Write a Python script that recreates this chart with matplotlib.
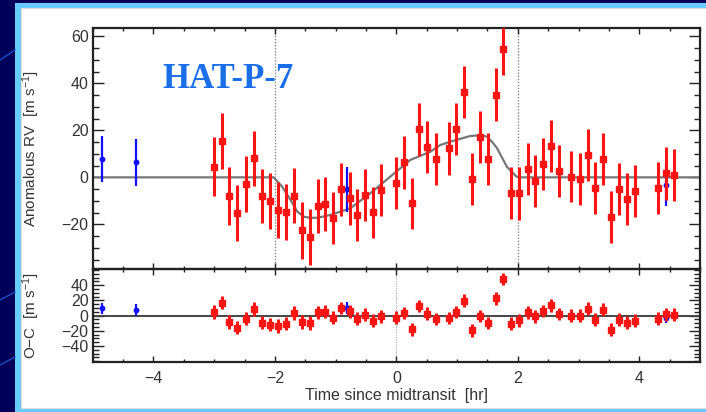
import matplotlib
matplotlib.use("Agg")
import matplotlib.pyplot as plt
from matplotlib.patches import Rectangle
from matplotlib.ticker import MultipleLocator

plt.rcParams['font.family'] = ['Liberation Sans', 'DejaVu Sans']
plt.rcParams['mathtext.fontset'] = 'custom'
plt.rcParams['mathtext.rm'] = 'Liberation Sans'
plt.rcParams['mathtext.it'] = 'Liberation Sans'

# ---------------- data ----------------
red_t = [-3.00, -2.87, -2.75, -2.62, -2.48, -2.35, -2.22, -2.08, -1.95, -1.82,
         -1.69, -1.56, -1.43, -1.29, -1.17, -1.04, -0.91, -0.77, -0.65, -0.52,
         -0.39, -0.26, 0.00, 0.13, 0.25, 0.38, 0.51, 0.65, 0.86, 0.99,
         1.12, 1.25, 1.38, 1.51, 1.64, 1.76, 1.89, 2.02, 2.16, 2.29,
         2.42, 2.55, 2.68, 2.88, 3.02, 3.15, 3.27, 3.40, 3.53, 3.67,
         3.80, 3.93, 4.31, 4.44, 4.57]
red_rv = [4.5, 15.4, -7.8, -15.1, -2.9, 8.1, -8.0, -10.1, -13.9, -14.8,
          -7.8, -22.6, -25.3, -12.2, -11.4, -17.4, -5.1, -8.9, -16.0, -7.5,
          -14.9, -5.4, -2.3, 6.4, -11.1, 20.4, 13.0, 7.7, 12.3, 20.7,
          36.4, -0.6, 17.3, 7.9, 35.1, 54.6, -6.6, -6.8, 3.7, -1.4,
          5.7, 13.3, 2.8, 0.3, -0.7, 9.6, -4.6, 7.9, -16.8, -5.0,
          -9.2, -5.7, -4.4, 1.7, 0.9]
red_err = [12.6, 12.0, 12.4, 11.8, 12.0, 11.7, 11.6, 11.8, 12.0, 12.0,
           11.8, 12.0, 12.0, 11.5, 11.5, 11.0, 11.2, 11.2, 11.0, 11.2,
           11.0, 11.0, 11.0, 11.2, 11.0, 11.2, 11.0, 11.0, 11.2, 11.0,
           11.0, 11.0, 11.0, 11.0, 11.2, 11.0, 11.2, 11.4, 11.0, 11.0,
           11.2, 11.0, 11.0, 10.9, 10.9, 11.0, 11.0, 11.0, 11.0, 11.0,
           11.0, 11.0, 11.0, 11.4, 11.0]
red_oc = [4.8, 17.1, -8.3, -15.8, -3.9, 8.8, -9.2, -11.8, -13.6, -10.5,
          3.5, -8.3, -9.6, 4.4, 5.3, -2.6, 10.1, 5.7, -3.9, 1.3,
          -6.6, -0.9, -2.6, 3.5, -18.0, 12.7, 2.6, -4.4, -3.1, 4.8,
          19.7, -19.3, -0.4, -9.6, 22.8, 48.2, -10.5, -6.1, 4.4, -0.9,
          6.1, 13.6, 2.2, 0.0, 0.0, 9.2, -5.3, 7.9, -18.4, -5.3,
          -9.2, -6.6, -3.9, 1.8, 1.3]

blue_t = [-4.85, -4.29, -0.82, 4.44]
blue_rv = [7.9, 6.5, -5.1, -3.3]
blue_err = [9.7, 10.0, 9.7, 9.0]
blue_oc = [9.6, 7.5, 10.1, -3.3]

model_t = [-5.0, -2.02, -1.88, -1.74, -1.63, -1.52, -1.41, -1.30, -1.09, -0.76,
           -0.43, -0.10, 0.23, 0.56, 0.72, 0.89, 1.22, 1.40, 1.49, 1.58, 1.66,
           1.82, 1.98, 2.02, 5.0]
model_rv = [0.0, 0.0, -4.0, -9.7, -14.6, -16.8, -17.2, -17.2, -16.0, -13.2,
            -6.8, 0.3, 7.4, 10.9, 13.7, 15.2, 17.6, 17.9, 17.3, 15.0, 12.3,
            4.5, 0.3, 0.0, 0.0]

contact_t = [-2.0, 2.0]

# ---------------- figure ----------------
W, H = 706, 412
fig = plt.figure(figsize=(W / 100, H / 100), dpi=100, facecolor='#00005a')

# slide decoration lines on the navy margin
for y0, y1 in [(60, 50), (300, 292), (365, 357)]:
    fig.add_artist(plt.Line2D([0, 15 / W], [1 - y0 / H, 1 - y1 / H], color='#1a4fc0',
                              lw=1.0, transform=fig.transFigure))

# light-blue frame and white panel
fig.add_artist(Rectangle((15 / W, 0), 1 - 15 / W, 1 - 3 / H, transform=fig.transFigure,
                         facecolor='#66ccff', edgecolor='none', zorder=0))
fig.add_artist(Rectangle((20.5 / W, 4 / H), 1 - 20.5 / W, (408.5 - 8.5) / H,
                         transform=fig.transFigure, facecolor='white',
                         edgecolor='#dddddd', lw=0.8, zorder=0))

L, R = 92.7, 700.0
T1, B1, B2 = 28.0, 269.3, 361.7
ax1 = fig.add_axes([L / W, 1 - B1 / H, (R - L) / W, (B1 - T1) / H])
ax2 = fig.add_axes([L / W, 1 - B2 / H, (R - L) / W, (B2 - B1) / H], sharex=ax1)

txt = '#333333'
FS = 11.5
for ax in (ax1, ax2):
    ax.set_facecolor('none')
    for s in ax.spines.values():
        s.set_linewidth(1.6)
        s.set_color('#222222')
    ax.tick_params(which='both', direction='in', top=True, right=True,
                   colors='#222222', labelcolor=txt, labelsize=FS, width=1.0)
    ax.tick_params(axis='x', which='major', length=4)
    ax.tick_params(axis='x', which='minor', length=2.2)
    ax.tick_params(axis='y', which='major', length=8, pad=3)
    ax.tick_params(axis='y', which='minor', length=4.5)
    ax.xaxis.set_major_locator(MultipleLocator(2))
    ax.xaxis.set_minor_locator(MultipleLocator(0.5))
    ax.yaxis.set_major_locator(MultipleLocator(20))
    ax.yaxis.set_minor_locator(MultipleLocator(5))

ax1.set_xlim(-5.0, 5.0)
ax1.set_ylim(-39.1, 63.5)
ax2.set_ylim(-60.6, 61.0)
ax1.tick_params(axis='x', labelbottom=False)
ax2.tick_params(axis='x', pad=7)
ax2.set_yticks([-40, -20, 0, 20, 40])

# top panel
for c in contact_t:
    ax1.axvline(c, color='#888888', lw=1.0, ls=(0, (1, 1.2)), zorder=1)
ax1.plot(model_t, model_rv, color='#777777', lw=1.6, zorder=2)
ax1.errorbar(blue_t, blue_rv, yerr=blue_err, fmt='o', color='#1010ff', ms=3.2,
             elinewidth=1.6, capsize=0, zorder=3)
ax1.errorbar(red_t, red_rv, yerr=red_err, fmt='s', color='#ff1414', ms=5,
             elinewidth=2.2, capsize=0, zorder=4)

# bottom panel
ax2.axvline(0.0, color='#aaaaaa', lw=0.8, ls=(0, (1, 1.2)), zorder=1)
ax2.axhline(0.0, color='#444444', lw=1.4, zorder=2)
ax2.errorbar(blue_t, blue_oc, yerr=[e * 0.75 for e in blue_err], fmt='o', color='#1010ff',
             ms=3.2, elinewidth=1.6, capsize=0, zorder=3)
ax2.errorbar(red_t, red_oc, yerr=[e * 0.75 for e in red_err], fmt='s', color='#ff1414',
             ms=5, elinewidth=2.2, capsize=0, zorder=4)

ax1.set_ylabel('Anomalous RV  [m s$^{-1}$]', color=txt, fontsize=11)
ax2.set_ylabel('O\u2212C  [m s$^{-1}$]', color=txt, fontsize=11)
ax2.set_xlabel('Time since midtransit  [hr]', color=txt, fontsize=11.5, labelpad=1)
lx = (42.5 - L) / (R - L)
ax1.yaxis.set_label_coords(lx, 0.5)
ax2.yaxis.set_label_coords(lx, 0.5)

fig.text(228 / W, 1 - 88 / H, 'HAT-P-7', color='#1a6ee8', fontsize=25,
         fontweight='bold', family='Liberation Serif', ha='center', va='baseline')

fig.savefig('out.png', dpi=100, facecolor=fig.get_facecolor())
